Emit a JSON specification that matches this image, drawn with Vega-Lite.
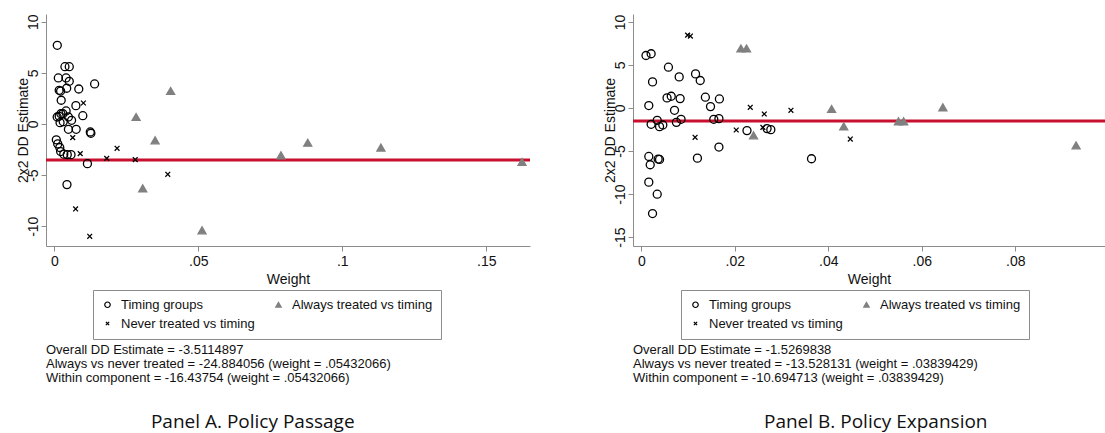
{
  "$schema": "https://vega.github.io/schema/vega-lite/v6.json",
  "padding": {"left": 15, "top": 13, "right": 0, "bottom": 0},
  "spacing": 71,
  "background": "white",
  "resolve": {"scale": {"shape": "independent", "stroke": "independent", "fill": "independent"}, "legend": {"shape": "independent", "stroke": "independent", "fill": "independent"}},
  "config": {
    "font": "Liberation Sans",
    "view": {"stroke": null},
    "axis": {
      "grid": false, "domainColor": "#8c8c8c", "tickColor": "#8c8c8c", "tickSize": 5,
      "labelFontSize": 14, "titleFontSize": 14, "titleFontWeight": "normal",
      "labelColor": "#111111", "titleColor": "#111111", "labelFont": "Liberation Sans", "titleFont": "Liberation Sans"
    },
    "axisY": {"labelAngle": 270, "titlePadding": -4, "labelPadding": 1}
  },
  "datasets": {
    "panelA": [
      {"w": 0.00104, "est": 7.69, "type": "Timing groups"},
      {"w": 0.0037, "est": 5.6, "type": "Timing groups"},
      {"w": 0.0052, "est": 5.6, "type": "Timing groups"},
      {"w": 0.0014, "est": 4.5, "type": "Timing groups"},
      {"w": 0.0041, "est": 4.5, "type": "Timing groups"},
      {"w": 0.0052, "est": 4.17, "type": "Timing groups"},
      {"w": 0.014, "est": 3.91, "type": "Timing groups"},
      {"w": 0.0085, "est": 3.42, "type": "Timing groups"},
      {"w": 0.0043, "est": 3.49, "type": "Timing groups"},
      {"w": 0.0017, "est": 3.29, "type": "Timing groups"},
      {"w": 0.0022, "est": 3.22, "type": "Timing groups"},
      {"w": 0.0024, "est": 2.32, "type": "Timing groups"},
      {"w": 0.0075, "est": 1.79, "type": "Timing groups"},
      {"w": 0.0099, "est": 0.81, "type": "Timing groups"},
      {"w": 0.0041, "est": 1.27, "type": "Timing groups"},
      {"w": 0.0023, "est": 1.0, "type": "Timing groups"},
      {"w": 0.003, "est": 1.0, "type": "Timing groups"},
      {"w": 0.0017, "est": 0.75, "type": "Timing groups"},
      {"w": 0.001, "est": 0.68, "type": "Timing groups"},
      {"w": 0.0049, "est": 0.68, "type": "Timing groups"},
      {"w": 0.006, "est": 0.36, "type": "Timing groups"},
      {"w": 0.0031, "est": 0.22, "type": "Timing groups"},
      {"w": 0.002, "est": 0.13, "type": "Timing groups"},
      {"w": 0.0049, "est": -0.52, "type": "Timing groups"},
      {"w": 0.0076, "est": -0.52, "type": "Timing groups"},
      {"w": 0.0125, "est": -0.78, "type": "Timing groups"},
      {"w": 0.0127, "est": -0.91, "type": "Timing groups"},
      {"w": 0.0007, "est": -1.55, "type": "Timing groups"},
      {"w": 0.0012, "est": -1.95, "type": "Timing groups"},
      {"w": 0.0019, "est": -2.3, "type": "Timing groups"},
      {"w": 0.0022, "est": -2.7, "type": "Timing groups"},
      {"w": 0.0033, "est": -2.95, "type": "Timing groups"},
      {"w": 0.0045, "est": -3.0, "type": "Timing groups"},
      {"w": 0.0058, "est": -3.0, "type": "Timing groups"},
      {"w": 0.0115, "est": -3.88, "type": "Timing groups"},
      {"w": 0.0044, "est": -5.93, "type": "Timing groups"},
      {"w": 0.0101, "est": 2.05, "type": "Never treated vs timing"},
      {"w": 0.0064, "est": -1.34, "type": "Never treated vs timing"},
      {"w": 0.009, "est": -2.9, "type": "Never treated vs timing"},
      {"w": 0.0182, "est": -3.36, "type": "Never treated vs timing"},
      {"w": 0.0218, "est": -2.38, "type": "Never treated vs timing"},
      {"w": 0.0281, "est": -3.49, "type": "Never treated vs timing"},
      {"w": 0.0394, "est": -4.92, "type": "Never treated vs timing"},
      {"w": 0.0074, "est": -8.31, "type": "Never treated vs timing"},
      {"w": 0.0123, "est": -10.98, "type": "Never treated vs timing"},
      {"w": 0.0284, "est": 0.68, "type": "Always treated vs timing"},
      {"w": 0.0404, "est": 3.23, "type": "Always treated vs timing"},
      {"w": 0.035, "est": -1.6, "type": "Always treated vs timing"},
      {"w": 0.0307, "est": -6.29, "type": "Always treated vs timing"},
      {"w": 0.0513, "est": -10.4, "type": "Always treated vs timing"},
      {"w": 0.0787, "est": -3.06, "type": "Always treated vs timing"},
      {"w": 0.088, "est": -1.83, "type": "Always treated vs timing"},
      {"w": 0.1134, "est": -2.31, "type": "Always treated vs timing"},
      {"w": 0.1624, "est": -3.71, "type": "Always treated vs timing"}
    ],
    "panelB": [
      {"w": 0.001, "est": 6.1, "type": "Timing groups"},
      {"w": 0.0021, "est": 6.3, "type": "Timing groups"},
      {"w": 0.0024, "est": 3.03, "type": "Timing groups"},
      {"w": 0.0058, "est": 4.74, "type": "Timing groups"},
      {"w": 0.0081, "est": 3.61, "type": "Timing groups"},
      {"w": 0.0116, "est": 3.96, "type": "Timing groups"},
      {"w": 0.0126, "est": 3.19, "type": "Timing groups"},
      {"w": 0.0055, "est": 1.17, "type": "Timing groups"},
      {"w": 0.0064, "est": 1.36, "type": "Timing groups"},
      {"w": 0.0083, "est": 1.09, "type": "Timing groups"},
      {"w": 0.0071, "est": -0.27, "type": "Timing groups"},
      {"w": 0.0137, "est": 1.25, "type": "Timing groups"},
      {"w": 0.0148, "est": 0.16, "type": "Timing groups"},
      {"w": 0.0167, "est": 1.05, "type": "Timing groups"},
      {"w": 0.0016, "est": 0.28, "type": "Timing groups"},
      {"w": 0.0075, "est": -1.67, "type": "Timing groups"},
      {"w": 0.0085, "est": -1.32, "type": "Timing groups"},
      {"w": 0.0155, "est": -1.32, "type": "Timing groups"},
      {"w": 0.0166, "est": -1.24, "type": "Timing groups"},
      {"w": 0.0021, "est": -1.9, "type": "Timing groups"},
      {"w": 0.0034, "est": -1.43, "type": "Timing groups"},
      {"w": 0.0039, "est": -2.17, "type": "Timing groups"},
      {"w": 0.0046, "est": -1.98, "type": "Timing groups"},
      {"w": 0.0166, "est": -4.54, "type": "Timing groups"},
      {"w": 0.012, "est": -5.83, "type": "Timing groups"},
      {"w": 0.0016, "est": -5.63, "type": "Timing groups"},
      {"w": 0.0036, "est": -5.94, "type": "Timing groups"},
      {"w": 0.0039, "est": -5.98, "type": "Timing groups"},
      {"w": 0.0019, "est": -6.6, "type": "Timing groups"},
      {"w": 0.0016, "est": -8.62, "type": "Timing groups"},
      {"w": 0.0034, "est": -10.02, "type": "Timing groups"},
      {"w": 0.0024, "est": -12.27, "type": "Timing groups"},
      {"w": 0.0226, "est": -2.63, "type": "Timing groups"},
      {"w": 0.0269, "est": -2.4, "type": "Timing groups"},
      {"w": 0.0277, "est": -2.52, "type": "Timing groups"},
      {"w": 0.0364, "est": -5.9, "type": "Timing groups"},
      {"w": 0.0099, "est": 8.47, "type": "Never treated vs timing"},
      {"w": 0.0105, "est": 8.36, "type": "Never treated vs timing"},
      {"w": 0.0115, "est": -3.41, "type": "Never treated vs timing"},
      {"w": 0.0203, "est": -2.56, "type": "Never treated vs timing"},
      {"w": 0.0233, "est": 0.08, "type": "Never treated vs timing"},
      {"w": 0.0263, "est": -0.7, "type": "Never treated vs timing"},
      {"w": 0.026, "est": -2.25, "type": "Never treated vs timing"},
      {"w": 0.032, "est": -0.27, "type": "Never treated vs timing"},
      {"w": 0.0447, "est": -3.61, "type": "Never treated vs timing"},
      {"w": 0.0213, "est": 6.92, "type": "Always treated vs timing"},
      {"w": 0.0225, "est": 6.92, "type": "Always treated vs timing"},
      {"w": 0.024, "est": -3.18, "type": "Always treated vs timing"},
      {"w": 0.0407, "est": -0.12, "type": "Always treated vs timing"},
      {"w": 0.0433, "est": -2.13, "type": "Always treated vs timing"},
      {"w": 0.055, "est": -1.55, "type": "Always treated vs timing"},
      {"w": 0.0561, "est": -1.55, "type": "Always treated vs timing"},
      {"w": 0.0645, "est": 0.08, "type": "Always treated vs timing"},
      {"w": 0.093, "est": -4.35, "type": "Always treated vs timing"}
    ],
    "overallA": [{"est": -3.5114897}],
    "overallB": [{"est": -1.5269838}]
  },
  "hconcat": [
    {
      "title": {"text": "Panel A. Policy Passage", "orient": "bottom", "anchor": "middle", "font": "Open Sans", "fontSize": 19, "fontWeight": "normal", "color": "#111111", "offset": 28, "dx": -21},
      "vconcat": [
        {
          "width": 484,
          "height": 232,
          "title": {
            "text": ["Overall DD Estimate = -3.5114897", "Always vs never treated = -24.884056 (weight = .05432066)", "Within component = -16.43754 (weight = .05432066)"],
            "orient": "bottom", "anchor": "start", "frame": "group", "font": "Liberation Sans", "fontSize": 13, "fontWeight": "normal", "color": "#111111", "lineHeight": 14.2, "offset": 58
          },
          "layer": [
            {
              "data": {"name": "overallA"},
              "mark": {"type": "rule", "color": "#c8102e", "strokeWidth": 3},
              "encoding": {"y": {"field": "est", "type": "quantitative", "scale": {"domain": [-11.93, 10.75], "nice": false, "zero": false}}}
            },
            {
              "data": {"name": "panelA"},
              "mark": {"type": "point", "filled": false, "size": 64, "strokeWidth": 1.3, "opacity": 1},
              "encoding": {
                "x": {"field": "w", "type": "quantitative", "title": "Weight", "scale": {"domain": [-0.00288, 0.16517], "nice": false, "zero": false}, "axis": {"values": [0, 0.05, 0.1, 0.15], "labelExpr": "replace(toString(datum.value), '0.', '.')", "labelPadding": 3}},
                "y": {"field": "est", "type": "quantitative", "title": "2x2 DD Estimate", "scale": {"domain": [-11.93, 10.75], "nice": false, "zero": false}, "axis": {"values": [-10, -5, 0, 5, 10], "labelExpr": "toString(datum.value)"}},
                "shape": {"field": "type", "type": "nominal", "scale": {"domain": ["Timing groups", "Always treated vs timing", "Never treated vs timing"], "range": ["circle", "triangle-up", "M-0.6,-0.6L0.6,0.6M0.6,-0.6L-0.6,0.6"]}, "legend": {"title": null, "orient": "none", "legendX": 47, "legendY": 276, "direction": "horizontal", "columns": 2, "strokeColor": "#8c8c8c", "padding": 8, "labelFontSize": 13, "labelColor": "#111111", "symbolSize": 30, "rowPadding": 5, "columnPadding": 17, "labelOffset": 7, "symbolStrokeWidth": 1.2}},
                "stroke": {"field": "type", "type": "nominal", "scale": {"domain": ["Timing groups", "Always treated vs timing", "Never treated vs timing"], "range": ["#000000", "#808080", "#000000"]}, "legend": {"title": null, "orient": "none", "legendX": 47, "legendY": 276, "direction": "horizontal", "columns": 2, "strokeColor": "#8c8c8c", "padding": 8, "labelFontSize": 13, "labelColor": "#111111", "symbolSize": 30, "rowPadding": 5, "columnPadding": 17, "labelOffset": 7, "symbolStrokeWidth": 1.2}},
                "fill": {"field": "type", "type": "nominal", "scale": {"domain": ["Timing groups", "Always treated vs timing", "Never treated vs timing"], "range": ["transparent", "#808080", "transparent"]}, "legend": {"title": null, "orient": "none", "legendX": 47, "legendY": 276, "direction": "horizontal", "columns": 2, "strokeColor": "#8c8c8c", "padding": 8, "labelFontSize": 13, "labelColor": "#111111", "symbolSize": 30, "rowPadding": 5, "columnPadding": 17, "labelOffset": 7, "symbolStrokeWidth": 1.2}}
              }
            }
          ]
        }
      ]
    },
    {
      "title": {"text": "Panel B. Policy Expansion", "orient": "bottom", "anchor": "middle", "font": "Open Sans", "fontSize": 19, "fontWeight": "normal", "color": "#111111", "offset": 28, "dx": 21},
      "vconcat": [
        {
          "width": 472,
          "height": 232,
          "title": {
            "text": ["Overall DD Estimate = -1.5269838", "Always vs never treated = -13.528131 (weight = .03839429)", "Within component = -10.694713 (weight = .03839429)"],
            "orient": "bottom", "anchor": "start", "frame": "group", "font": "Liberation Sans", "fontSize": 13, "fontWeight": "normal", "color": "#111111", "lineHeight": 14.2, "offset": 58
          },
          "layer": [
            {
              "data": {"name": "overallB"},
              "mark": {"type": "rule", "color": "#c8102e", "strokeWidth": 3},
              "encoding": {"y": {"field": "est", "type": "quantitative", "scale": {"domain": [-16.04, 10.92], "nice": false, "zero": false}}}
            },
            {
              "data": {"name": "panelB"},
              "mark": {"type": "point", "filled": false, "size": 64, "strokeWidth": 1.3, "opacity": 1},
              "encoding": {
                "x": {"field": "w", "type": "quantitative", "title": "Weight", "scale": {"domain": [-0.00178, 0.09918], "nice": false, "zero": false}, "axis": {"values": [0, 0.02, 0.04, 0.06, 0.08], "labelExpr": "replace(toString(datum.value), '0.', '.')", "labelPadding": 3}},
                "y": {"field": "est", "type": "quantitative", "title": "2x2 DD Estimate", "scale": {"domain": [-16.04, 10.92], "nice": false, "zero": false}, "axis": {"values": [-15, -10, -5, 0, 5, 10], "labelExpr": "toString(datum.value)"}},
                "shape": {"field": "type", "type": "nominal", "scale": {"domain": ["Timing groups", "Always treated vs timing", "Never treated vs timing"], "range": ["circle", "triangle-up", "M-0.6,-0.6L0.6,0.6M0.6,-0.6L-0.6,0.6"]}, "legend": {"title": null, "orient": "none", "legendX": 48, "legendY": 276, "direction": "horizontal", "columns": 2, "strokeColor": "#8c8c8c", "padding": 8, "labelFontSize": 13, "labelColor": "#111111", "symbolSize": 30, "rowPadding": 5, "columnPadding": 17, "labelOffset": 7, "symbolStrokeWidth": 1.2}},
                "stroke": {"field": "type", "type": "nominal", "scale": {"domain": ["Timing groups", "Always treated vs timing", "Never treated vs timing"], "range": ["#000000", "#808080", "#000000"]}, "legend": {"title": null, "orient": "none", "legendX": 48, "legendY": 276, "direction": "horizontal", "columns": 2, "strokeColor": "#8c8c8c", "padding": 8, "labelFontSize": 13, "labelColor": "#111111", "symbolSize": 30, "rowPadding": 5, "columnPadding": 17, "labelOffset": 7, "symbolStrokeWidth": 1.2}},
                "fill": {"field": "type", "type": "nominal", "scale": {"domain": ["Timing groups", "Always treated vs timing", "Never treated vs timing"], "range": ["transparent", "#808080", "transparent"]}, "legend": {"title": null, "orient": "none", "legendX": 48, "legendY": 276, "direction": "horizontal", "columns": 2, "strokeColor": "#8c8c8c", "padding": 8, "labelFontSize": 13, "labelColor": "#111111", "symbolSize": 30, "rowPadding": 5, "columnPadding": 17, "labelOffset": 7, "symbolStrokeWidth": 1.2}}
              }
            }
          ]
        }
      ]
    }
  ]
}
